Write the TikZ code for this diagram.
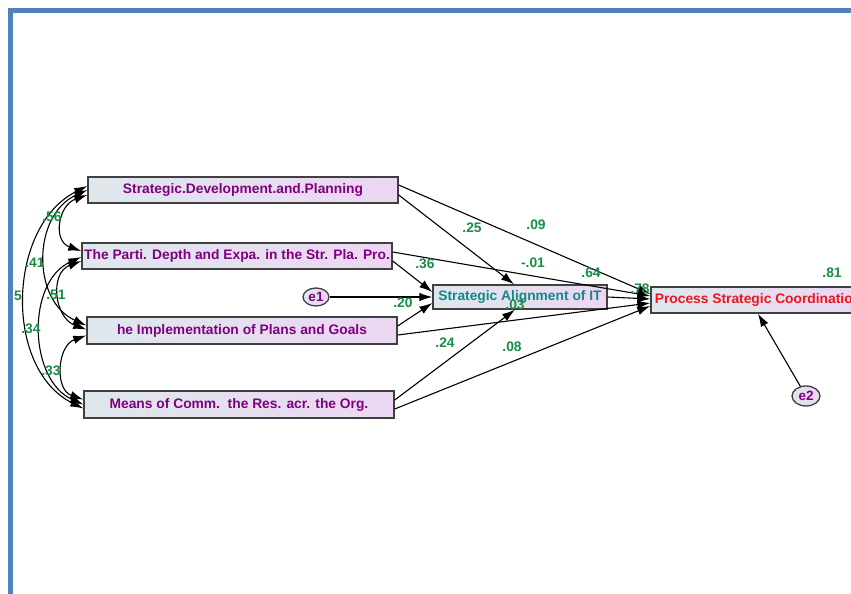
\documentclass[tikz,border=0pt]{standalone}
\usepackage{fontspec}
\setmainfont{Liberation Sans}
\usetikzlibrary{arrows.meta,calc,shapes.geometric}
\definecolor{framblue}{RGB}{79,129,189}
\definecolor{boxleft}{RGB}{222,232,236}
\definecolor{boxright}{RGB}{236,214,242}
\definecolor{estgreen}{RGB}{25,140,70}
\definecolor{varpurple}{RGB}{128,0,128}
\definecolor{varteal}{RGB}{20,135,135}
\definecolor{varred}{RGB}{240,20,30}
\tikzset{
  obsvar/.style={draw=black!75, line width=1.4pt, left color=boxleft, right color=boxright,
    minimum height=26pt, inner sep=0pt, font=\fontsize{13.8}{15}\selectfont\bfseries},
  errvar/.style={ellipse, draw=black!75, line width=1.3pt, left color=boxleft, right color=boxright,
    minimum width=26pt, minimum height=18pt, inner sep=0pt, text=varpurple,
    font=\fontsize{13.5}{15}\selectfont\bfseries},
  regpath/.style={-{Latex[length=13pt,width=8.5pt]}, line width=1.1pt},
  covpath/.style={{Latex[length=13pt,width=8.5pt]}-{Latex[length=13pt,width=8.5pt]}, line width=1.1pt},
  est/.style={text=estgreen, inner sep=0pt, font=\fontsize{13.8}{15}\selectfont\bfseries}
}
\begin{document}
\begin{tikzpicture}[x=1pt,y=-1pt]
\useasboundingbox (0,0) rectangle (851,594);
\clip (0,0) rectangle (851,594);
\fill[white] (0,0) rectangle (851,594);
\draw[framblue, line width=5pt] (10.5,10.5) rectangle (900,650);

\node[obsvar, minimum width=310pt, text=varpurple] (sdp) at (243,190) {Strategic.Development.and.Planning};
\node[obsvar, minimum width=310pt, text=varpurple] (tpd) at (237,256) {The Parti. Depth and Expa. in the Str. Pla. Pro.};
\node[obsvar, minimum width=310pt, minimum height=27pt, text=varpurple] (hip) at (242,330.5) {he Implementation of Plans and Goals};
\node[obsvar, minimum width=310pt, minimum height=27pt, text=varpurple] (mcr) at (239,404.5) {Means of Comm.\ \ the Res. acr. the Org.};
\node[obsvar, minimum width=174pt, minimum height=24pt, text=varteal] (sait) at (520,297) {Strategic Alignment of IT};
\node[obsvar, minimum width=214pt, text=varred] (psc) at (758,300) {Process Strategic Coordination};
\node[errvar] (e1) at (316,297) {e1};
\node[errvar, minimum width=28pt, minimum height=20pt] (e2) at (806,396) {e2};

\draw[regpath] ($(sdp.east)+(0,-5)$) -- ($(psc.west)+(0,-6)$);
\draw[regpath] ($(sdp.east)+(0,5)$) -- ($(sait.north)+(-6,0)$);
\draw[regpath] ($(tpd.east)+(0,-4)$) -- ($(psc.west)+(0,-4)$);
\draw[regpath] ($(tpd.east)+(0,5)$) -- ($(sait.west)+(0,-5)$);
\draw[regpath] (e1) -- (sait.west);
\draw[regpath] ($(hip.east)+(0,-4.5)$) -- ($(sait.west)+(0,6)$);
\draw[regpath] ($(hip.east)+(0,4.5)$) -- ($(psc.west)+(0,3)$);
\draw[regpath] (sait.east) -- ($(psc.west)+(0,-1)$);
\draw[regpath] ($(mcr.east)+(0,-4.5)$) -- ($(sait.south)+(-5,0)$);
\draw[regpath] ($(mcr.east)+(0,4.5)$) -- ($(psc.west)+(0,6)$);
\draw[regpath] (e2) -- (psc.south);

\draw[covpath] ($(sdp.west)+(0,5)$) .. controls +(-29,10) and +(-29,-10) .. ($(tpd.west)+(0,-5)$);
\draw[covpath] ($(tpd.west)+(0,5)$) .. controls +(-32,12) and +(-32,-12) .. ($(hip.west)+(0,-1)$);
\draw[covpath] ($(hip.west)+(0,5)$) .. controls +(-29,10) and +(-29,-10) .. ($(mcr.west)+(0,-5)$);
\draw[covpath] ($(sdp.west)+(0,0)$) .. controls +(-55,25) and +(-55,-25) .. ($(hip.west)+(0,-5)$);
\draw[covpath] ($(tpd.west)+(0,1)$) .. controls +(-55,25) and +(-55,-25) .. ($(mcr.west)+(0,0)$);
\draw[covpath] ($(sdp.west)+(0,-4)$) .. controls +(-80,40) and +(-80,-40) .. ($(mcr.west)+(0,4)$);

\node[est] (c1) at (52,217) {.56};
\node[est] (c2) at (35,263) {.41};
\node[est] (c3) at (18,296) {5};
\node[est] (c4) at (56,295) {.51};
\node[est] (c5) at (31,329) {.34};
\node[est] (c6) at (51,371) {.33};
\node[est] (w1) at (472,228) {.25};
\node[est] (w2) at (536,225) {.09};
\node[est] (w3) at (425,264) {.36};
\node[est] (w4) at (533,263) {-.01};
\node[est] (w5) at (591,273) {.64};
\node[est] (w6) at (403,303) {.20};
\node[est] (w7) at (515,305) {.03};
\node[est] (w8) at (445,343) {.24};
\node[est] (w9) at (512,347) {.08};
\node[est] (r1) at (640,289) {.78};
\node[est] (r2) at (832,273) {.81};
\end{tikzpicture}
\end{document}
